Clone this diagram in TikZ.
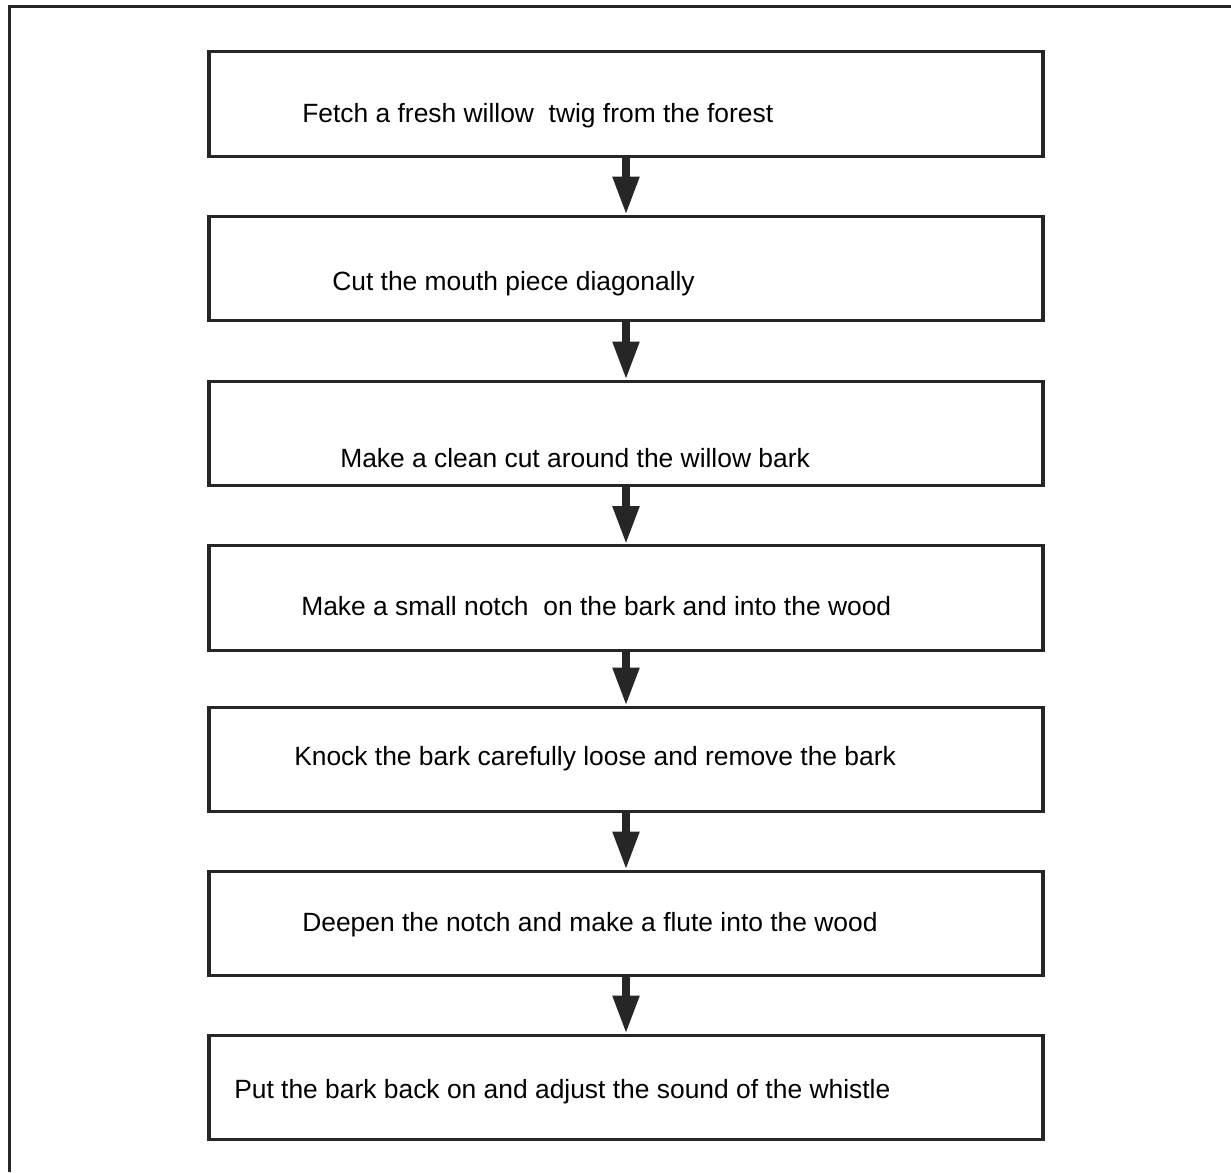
\documentclass[tikz,border=0pt]{standalone}
\usepackage{fontspec}
\setmainfont{Liberation Sans}
\usetikzlibrary{arrows.meta}
\tikzset{stepbox/.style={rectangle,draw=black!85,line width=2.4pt,minimum width=625.5pt,minimum height=78.4pt,inner sep=0pt}}
\tikzset{t/.style={anchor=base west,inner sep=0pt,font=\fontsize{19.8pt}{24pt}\selectfont}}
\tikzset{flow/.style={draw=black!85,line width=6pt,-{Triangle[length=28.5pt,width=18.75pt]}}}

\begin{document}
\begin{tikzpicture}[x=0.75pt,y=-0.75pt]
      \useasboundingbox (0,0) rectangle (1231,1172);
      \draw[black!85,line width=2.4pt] (9.5,1172) |- (1231,6.5);
      \node[stepbox] (b1) at (626,104) {};
      \node[stepbox] (b2) at (626,268.5) {};
      \node[stepbox] (b3) at (626,433.5) {};
      \node[stepbox] (b4) at (626,598) {};
      \node[stepbox] (b5) at (626,759.5) {};
      \node[stepbox] (b6) at (626,923.5) {};
      \node[stepbox] (b7) at (626,1087.5) {};
      \node[t] (t1) at (302,122.5) {Fetch a fresh willow\ \ twig from the forest};
      \node[t] (t2) at (332,290.5) {Cut the mouth piece diagonally};
      \node[t] (t3) at (340,467.5) {Make a clean cut around the willow bark};
      \node[t] (t4) at (301,615.5) {Make a small notch\ \ on the bark and into the wood};
      \node[t] (t5) at (294,765.5) {Knock the bark carefully loose and remove the bark};
      \node[t] (t6) at (302,931.5) {Deepen the notch and make a flute into the wood};
      \node[t] (t7) at (234,1098) {Put the bark back on and adjust the sound of the whistle};
        \draw[flow] (b1) -- (b2);
        \draw[flow] (b2) -- (b3);
        \draw[flow] (b3) -- (b4);
        \draw[flow] (b4) -- (b5);
        \draw[flow] (b5) -- (b6);
        \draw[flow] (b6) -- (b7);
    \end{tikzpicture}
\end{document}
